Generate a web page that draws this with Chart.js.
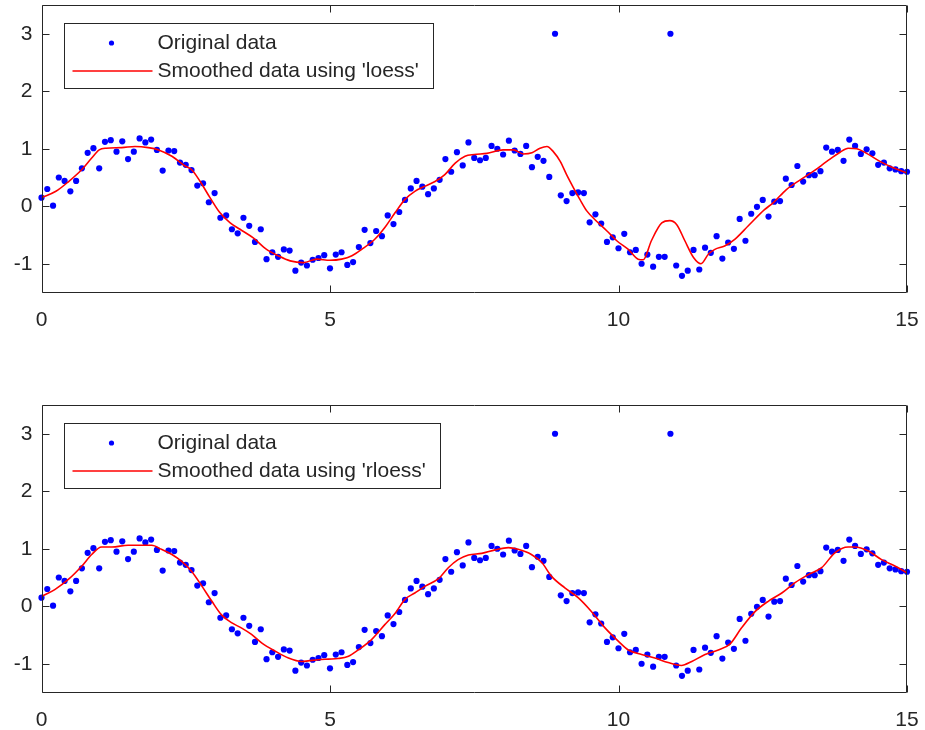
<!DOCTYPE html>
<html><head><meta charset="utf-8">
<script src="https://cdn.jsdelivr.net/npm/chart.js@4/dist/chart.umd.min.js"></script>
<style>
html,body{margin:0;padding:0;background:#fff;width:925px;height:730px;overflow:hidden}
.wrap{position:absolute;left:0;width:925px;height:330px}
</style></head><body>
<div class="wrap" style="top:0"><canvas id="c1" width="925" height="330"></canvas></div>
<div class="wrap" style="top:400px"><canvas id="c2" width="925" height="330"></canvas></div>
<script>
// ---- data ----
const xValues = [0.0,0.1,0.2,0.3,0.4,0.5,0.6,0.7,0.8,0.9,1.0,1.1,1.2,1.3,1.4,1.5,1.6,1.7,1.8,1.9,
2.0,2.1,2.2,2.3,2.4,2.5,2.6,2.7,2.8,2.9,3.0,3.1,3.2,3.3,3.4,3.5,3.6,3.7,3.8,3.9,
4.0,4.1,4.2,4.3,4.4,4.5,4.6,4.7,4.8,4.9,5.0,5.1,5.2,5.3,5.4,5.5,5.6,5.7,5.8,5.9,
6.0,6.1,6.2,6.3,6.4,6.5,6.6,6.7,6.8,6.9,7.0,7.1,7.2,7.3,7.4,7.5,7.6,7.7,7.8,7.9,
8.0,8.1,8.2,8.3,8.4,8.5,8.6,8.7,8.8,8.9,9.0,9.1,9.2,9.3,9.4,9.5,9.6,9.7,9.8,9.9,
10.0,10.1,10.2,10.3,10.4,10.5,10.6,10.7,10.8,10.9,11.0,11.1,11.2,11.3,11.4,11.5,11.6,11.7,11.8,11.9,
12.0,12.1,12.2,12.3,12.4,12.5,12.6,12.7,12.8,12.9,13.0,13.1,13.2,13.3,13.4,13.5,13.6,13.7,13.8,13.9,
14.0,14.1,14.2,14.3,14.4,14.5,14.6,14.7,14.8,14.9,15.0];
const yOriginal = [0.15,0.30,0.01,0.50,0.44,0.26,0.44,0.66,0.93,1.01,
0.66,1.12,1.15,0.95,1.13,0.82,0.95,1.18,1.11,1.16,
0.98,0.62,0.97,0.96,0.76,0.72,0.63,0.36,0.40,0.07,
0.23,-0.20,-0.16,-0.40,-0.47,-0.20,-0.34,-0.62,-0.40,-0.92,
-0.80,-0.88,-0.75,-0.77,-1.12,-0.98,-1.03,-0.93,-0.90,-0.85,
-1.08,-0.84,-0.80,-1.02,-0.97,-0.71,-0.41,-0.64,-0.43,-0.52,
-0.16,-0.31,-0.10,0.11,0.31,0.44,0.34,0.21,0.31,0.46,
0.82,0.60,0.94,0.71,1.11,0.84,0.80,0.84,1.05,1.00,
0.90,1.14,0.97,0.91,1.05,0.68,0.86,0.79,0.51,3.00,
0.19,0.09,0.23,0.24,0.23,-0.28,-0.14,-0.30,-0.62,-0.54,
-0.73,-0.48,-0.80,-0.76,-1.00,-0.84,-1.05,-0.88,-0.88,3.00,
-1.03,-1.21,-1.12,-0.76,-1.10,-0.72,-0.81,-0.52,-0.91,-0.63,
-0.74,-0.22,-0.60,-0.13,-0.01,0.11,-0.18,0.08,0.09,0.48,
0.37,0.70,0.43,0.54,0.54,0.61,1.02,0.95,0.98,0.79,
1.16,1.05,0.91,0.99,0.92,0.72,0.76,0.66,0.64,0.61,
0.60];

const loessX = [0,0.25,0.47,0.7,0.87,1.0,1.12,1.39,1.62,1.85,2.03,2.26,2.49,2.6,2.75,2.92,3.09,3.27,3.44,3.67,
3.9,4.1,4.31,4.54,4.77,5.0,5.2,5.38,5.55,5.78,5.95,6.13,6.30,6.47,6.65,6.82,6.99,7.17,7.34,7.5,
7.72,8.0,8.18,8.35,8.5,8.64,8.76,8.87,8.99,9.1,9.22,9.33,9.45,9.62,9.8,9.97,10.17,10.34,10.43,10.57,
10.75,10.89,11.01,11.15,11.3,11.43,11.56,11.67,11.84,12.02,12.25,12.53,12.68,12.91,13.15,13.38,13.61,13.84,13.98,14.13,
14.3,14.53,14.76,15.0];
const loessY = [0.15,0.26,0.43,0.64,0.84,0.98,1.01,1.02,1.04,1.02,0.98,0.87,0.70,0.64,0.43,0.15,-0.11,-0.29,-0.40,-0.55,
-0.75,-0.86,-0.95,-0.98,-0.92,-0.94,-0.92,-0.86,-0.75,-0.57,-0.37,-0.11,0.12,0.26,0.35,0.43,0.55,0.75,0.87,0.90,
0.92,0.98,0.98,0.91,0.93,1.01,1.04,0.95,0.78,0.55,0.32,0.12,-0.08,-0.26,-0.43,-0.60,-0.75,-0.92,-0.93,-0.60,
-0.29,-0.25,-0.32,-0.60,-0.89,-1.00,-0.83,-0.75,-0.69,-0.57,-0.34,-0.06,0.06,0.29,0.46,0.61,0.78,0.94,1.01,1.00,
0.92,0.78,0.67,0.58];

const rloessX = [0,0.23,0.47,0.7,0.87,1.04,1.22,1.5,1.74,1.91,2.08,2.26,2.43,2.6,2.78,2.95,3.12,3.3,3.47,3.64,
3.82,4.05,4.28,4.51,4.62,4.8,4.97,5.14,5.32,5.49,5.72,5.95,6.13,6.3,6.47,6.65,6.88,7.05,7.22,7.4,
7.63,7.86,8.09,8.26,8.49,8.67,8.84,9.07,9.3,9.53,9.77,10.0,10.17,10.4,10.63,10.86,11.09,11.27,11.5,11.73,
11.93,12.13,12.37,12.6,12.83,13.06,13.29,13.52,13.75,13.98,14.1,14.33,14.56,14.79,15.0];
const rloessY = [0.17,0.29,0.47,0.70,0.90,1.03,1.03,1.06,1.06,1.06,0.99,0.90,0.78,0.61,0.35,0.09,-0.15,-0.29,-0.38,-0.49,
-0.64,-0.78,-0.90,-0.96,-0.95,-0.93,-0.92,-0.91,-0.87,-0.76,-0.58,-0.32,-0.12,0.12,0.23,0.35,0.48,0.67,0.81,0.89,
0.92,0.98,1.02,0.99,0.90,0.76,0.52,0.32,0.15,-0.09,-0.38,-0.61,-0.76,-0.84,-0.90,-0.98,-1.03,-0.96,-0.84,-0.76,
-0.66,-0.38,-0.09,0.09,0.23,0.41,0.55,0.67,0.93,1.03,1.03,0.96,0.81,0.70,0.58];

const xTicks = [0,5,10,15];
const yTicks = [-1,0,1,2,3];
const labelsTop = ["Original data","Smoothed data using 'loess'"];
const labelsBottom = ["Original data","Smoothed data using 'rloess'"];

// ---- style ----
const FONT = "'Liberation Sans', Arial, Helvetica, sans-serif";
const AX = '#262626';
const BLUE = '#0000ff';
const RED = '#ff0000';

const pts = (xs, ys) => xs.map((v, i) => ({x: v, y: ys[i]}));

const framePlugin = {
  id: 'frame',
  beforeLayout(chart) {},
  afterDraw(chart) {
    const {ctx, chartArea: a, scales: {x, y}} = chart;
    const L = Math.round(a.left) + 0.5, R = Math.round(a.right) - 0.5;
    const T = Math.round(a.top) + 0.5, B = Math.round(a.bottom) - 0.5;
    ctx.save();
    ctx.strokeStyle = AX; ctx.lineWidth = 1;
    ctx.beginPath();
    ctx.rect(L, T, R - L, B - T);
    const tl = 7;
    x.ticks.forEach(t => {
      const px = Math.round(x.getPixelForValue(t.value)) + 0.5;
      ctx.moveTo(px, B); ctx.lineTo(px, B - tl);
      ctx.moveTo(px, T); ctx.lineTo(px, T + tl);
    });
    y.ticks.forEach(t => {
      const py = Math.round(y.getPixelForValue(t.value)) + 0.5;
      ctx.moveTo(L, py); ctx.lineTo(L + tl, py);
      ctx.moveTo(R, py); ctx.lineTo(R - tl, py);
    });
    ctx.stroke();

    // legend
    const ds = chart.data.datasets;
    const lx = Math.round(a.left + 22) + 0.5, ly = Math.round(a.top + 18) + 0.5;
    ctx.font = '21px ' + FONT;
    const tw = Math.max(...ds.map(d => ctx.measureText(d.label).width));
    const w = Math.round(93 + tw + 15), h = 65;
    ctx.fillStyle = '#fff';
    ctx.fillRect(lx, ly, w, h);
    ctx.strokeStyle = AX; ctx.lineWidth = 1;
    ctx.strokeRect(lx, ly, w, h);
    const r1 = ly + 19.5, r2 = ly + 47.5;
    ctx.fillStyle = BLUE;
    ctx.beginPath(); ctx.arc(lx + 47, r1, 2.6, 0, Math.PI * 2); ctx.fill();
    ctx.strokeStyle = RED; ctx.lineWidth = 1.5;
    ctx.beginPath(); ctx.moveTo(lx + 8, r2); ctx.lineTo(lx + 88, r2); ctx.stroke();
    ctx.fillStyle = AX; ctx.textBaseline = 'middle'; ctx.textAlign = 'left';
    ctx.fillText(ds[0].label, lx + 93, r1);
    ctx.fillText(ds[1].label, lx + 93, r2);
    ctx.restore();
  }
};

const zeroPad = s => { s.paddingTop = 0; s.paddingBottom = 0; s.paddingLeft = 0; s.paddingRight = 0; };

function makeChart(id, labels, lx, ly) {
  return new Chart(document.getElementById(id), {
    type: 'line',
    data: {
      datasets: [
        {label: labels[0], data: pts(xValues, yOriginal), showLine: false, pointRadius: 3.1,
         pointBackgroundColor: BLUE, pointBorderWidth: 0, pointHoverRadius: 3.1, clip: false, order: 2},
        {label: labels[1], data: pts(lx, ly), borderColor: RED, borderWidth: 1.6, pointRadius: 0,
         cubicInterpolationMode: 'monotone', fill: false, order: 1}
      ]
    },
    options: {
      responsive: false, animation: false, devicePixelRatio: 1,
      layout: {padding: {top: 5, right: 18, left: 0, bottom: 0}},
      plugins: {legend: {display: false}, tooltip: {enabled: false}},
      scales: {
        x: {type: 'linear', min: 0, max: 15,
            afterBuildTicks: s => { s.ticks = xTicks.map(v => ({value: v})); },
            afterFit: s => { s.height = 37.5; zeroPad(s); },
            grid: {display: false, drawTicks: false}, border: {display: false},
            ticks: {font: {family: FONT, size: 21}, color: AX, padding: 15, maxRotation: 0, autoSkip: false}},
        y: {type: 'linear', min: -1.5, max: 3.5,
            afterBuildTicks: s => { s.ticks = yTicks.map(v => ({value: v})); },
            afterFit: s => { s.width = 41.5; zeroPad(s); },
            grid: {display: false, drawTicks: false}, border: {display: false},
            ticks: {font: {family: FONT, size: 21}, color: AX, padding: 9, autoSkip: false}}
      }
    },
    plugins: [framePlugin]
  });
}
makeChart('c1', labelsTop, loessX, loessY);
makeChart('c2', labelsBottom, rloessX, rloessY);
</script>
</body></html>
